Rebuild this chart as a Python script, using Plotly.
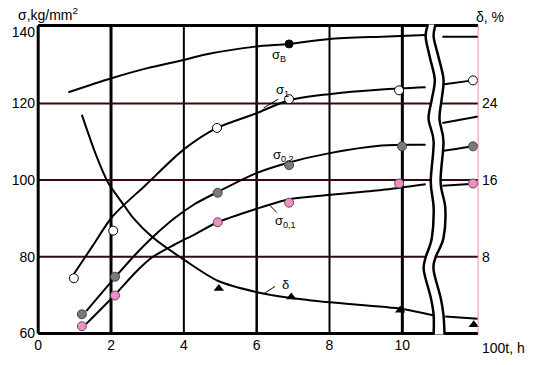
import plotly.graph_objects as go

# ---------------- data ----------------
# time axis: 100 t, h ; sigma in kg/mm^2 ; delta in %
SB_LINE_T = [0.83, 1.99, 3.0, 4.02, 4.56, 5.96, 6.89, 7.99, 9.43, 10.64, None, 11.1, 12.08]
SB_LINE_V = [122.9, 126.5, 129.2, 131.4, 132.7, 134.8, 135.5, 136.8, 137.4, 137.8, None, 137.35, 137.35]
SB_PTS_T = [6.89]
SB_PTS_V = [135.5]

S1_LINE_T = [0.98, 1.5, 2.04, 2.94, 4.0, 4.91, 5.96, 6.89, 7.99, 9.43, 10.64, None, 11.1, 11.94, 12.08]
S1_LINE_V = [75.5, 82.9, 90.5, 98.6, 108.0, 113.6, 117.3, 120.8, 122.4, 123.6, 124.2, None, 124.9, 126.0, 126.2]
S1_PTS_T = [0.98, 2.06, 4.91, 6.89, 9.91, 11.94]
S1_PTS_V = [74.4, 86.8, 113.6, 121.1, 123.4, 126.0]

S02_LINE_T = [1.32, 2.18, 2.67, 3.12, 3.75, 4.29, 4.93, 5.96, 6.89, 7.94, 9.43, 10.64, None, 11.1, 11.94, 12.08]
S02_LINE_V = [65.8, 75.4, 80.6, 84.9, 90.1, 93.7, 96.9, 101.7, 104.6, 106.9, 109.0, 109.2, None, 107.6, 108.8, 109.1]
S02_PTS_T = [1.20, 2.11, 4.93, 6.89, 9.99, 11.94]
S02_PTS_V = [65.0, 74.8, 96.7, 103.9, 108.8, 108.8]

S01_LINE_T = [1.32, 2.13, 2.67, 3.12, 3.75, 4.29, 4.93, 5.96, 6.89, 7.94, 9.43, 10.64, None, 11.1, 12.08]
S01_LINE_V = [62.5, 70.3, 75.9, 79.8, 83.2, 85.8, 89.0, 92.4, 95.0, 96.1, 97.4, 98.9, None, 98.5, 99.1]
S01_PTS_T = [1.20, 2.11, 4.93, 6.89, 9.91, 11.94]
S01_PTS_V = [61.9, 69.9, 89.0, 94.1, 99.1, 99.1]

EXTRA_LINE_T = [11.1, 12.08]
EXTRA_LINE_V = [114.9, 116.6]

D_LINE_T = [1.20, 1.59, 1.91, 2.35, 2.62, 3.15, 4.04, 4.93, 6.01, 6.95, 8.0, 10.0, 10.87, None, 11.18, 12.07]
D_LINE_V = [22.8, 18.6, 15.8, 13.4, 12.0, 10.0, 7.6, 5.5, 4.3, 3.7, 3.25, 2.56, 1.88, None, 1.78, 1.53]
D_PTS_T = [4.96, 6.95, 9.94, 11.96]
D_PTS_V = [4.7, 3.8, 2.43, 0.9]

X_TICKS = [0, 2, 4, 6, 8, 10]
Y_TICK_TEXT = ["60", "80", "100", "120", "140"]
Y_TICK_POS = [60, 80, 100, 120, 138.6]
Y2_TICKS = [8, 16, 24]

# axis break (wavy gap) outline, in axis units
BREAK_Y = [140.6, 137.35, 132.2, 126.25, 121.1, 115.9, 110.0, 99.6, 92.7, 84.9, 79.8, 76.4, 69.4, 64.8, 59.7]
BREAK_L = [10.70, 10.64, 10.75, 10.89, 10.81, 10.72, 10.86, 10.78, 10.86, 10.81, 10.64, 10.59, 10.78, 10.86, 10.86]
BREAK_R = [10.91, 10.86, 10.99, 11.13, 11.08, 11.02, 11.13, 11.05, 11.18, 11.13, 10.91, 10.86, 11.05, 11.13, 11.16]

# ---------------- geometry ----------------
X_RANGE = [-0.06, 12.16]
Y_RANGE = [59.6, 140.7]
Y2_RANGE = [(Y_RANGE[0] - 60) * 0.4, (Y_RANGE[1] - 60) * 0.4]
X_END = 12.08
Y_TOP = 140.3
FONT = "Liberation Sans, Arial, sans-serif"


def cr_path(xs, ys, start_cmd="M"):
    pts = list(zip(xs, ys))
    n = len(pts)
    s = f"{start_cmd} {pts[0][0]},{pts[0][1]} "
    for i in range(n - 1):
        p0 = pts[i - 1] if i > 0 else pts[i]
        p1 = pts[i]
        p2 = pts[i + 1]
        p3 = pts[i + 2] if i + 2 < n else pts[i + 1]
        c1 = (p1[0] + (p2[0] - p0[0]) / 6, p1[1] + (p2[1] - p0[1]) / 6)
        c2 = (p2[0] - (p3[0] - p1[0]) / 6, p2[1] - (p3[1] - p1[1]) / 6)
        s += f"C {c1[0]},{c1[1]} {c2[0]},{c2[1]} {p2[0]},{p2[1]} "
    return s


fig = go.Figure()

line_style = dict(color="black", width=2, shape="spline", smoothing=0.8)

for t, v in [(SB_LINE_T, SB_LINE_V), (S1_LINE_T, S1_LINE_V), (S02_LINE_T, S02_LINE_V),
             (S01_LINE_T, S01_LINE_V), (EXTRA_LINE_T, EXTRA_LINE_V)]:
    fig.add_trace(go.Scatter(x=t, y=v, mode="lines", line=line_style,
                             connectgaps=False, hoverinfo="skip"))
fig.add_trace(go.Scatter(x=D_LINE_T, y=D_LINE_V, mode="lines", line=line_style,
                         connectgaps=False, yaxis="y2", hoverinfo="skip"))

fig.add_trace(go.Scatter(x=SB_PTS_T, y=SB_PTS_V, mode="markers",
                         marker=dict(symbol="circle", size=8, color="black",
                                     line=dict(color="black", width=1))))
fig.add_trace(go.Scatter(x=S1_PTS_T, y=S1_PTS_V, mode="markers",
                         marker=dict(symbol="circle", size=9, color="white",
                                     line=dict(color="black", width=1))))
fig.add_trace(go.Scatter(x=S02_PTS_T, y=S02_PTS_V, mode="markers",
                         marker=dict(symbol="circle", size=9, color="#7a7a7a",
                                     line=dict(color="#444444", width=1))))
fig.add_trace(go.Scatter(x=S01_PTS_T, y=S01_PTS_V, mode="markers",
                         marker=dict(symbol="circle", size=9, color="#f58cc6",
                                     line=dict(color="#555555", width=1))))
fig.add_trace(go.Scatter(x=D_PTS_T, y=D_PTS_V, mode="markers", yaxis="y2",
                         marker=dict(symbol="triangle-up", size=9, color="black")))

shapes = []
# grid
for gx, w in zip(X_TICKS[1:], [3, 2, 2.5, 2, 3]):
    shapes.append(dict(type="line", xref="x", yref="y", x0=gx, x1=gx, y0=60, y1=Y_TOP,
                       line=dict(color="black", width=w), layer="below"))
for gy in [80, 100, 120]:
    shapes.append(dict(type="line", xref="x", yref="y", x0=0, x1=X_END, y0=gy, y1=gy,
                       line=dict(color="#300c0c", width=2), layer="below"))
# frame
shapes.append(dict(type="line", xref="x", yref="y", x0=0, x1=0, y0=60, y1=Y_TOP,
                   line=dict(color="black", width=3), layer="above"))
shapes.append(dict(type="line", xref="x", yref="y", x0=0, x1=X_END, y0=Y_TOP, y1=Y_TOP,
                   line=dict(color="black", width=3), layer="above"))
shapes.append(dict(type="line", xref="x", yref="y", x0=0, x1=X_END, y0=60, y1=60,
                   line=dict(color="black", width=3), layer="above"))
shapes.append(dict(type="line", xref="x", yref="y", x0=X_END, x1=X_END, y0=60, y1=Y_TOP,
                   line=dict(color="#e38fb2", width=1), layer="above"))
# break band
fill_path = cr_path(BREAK_L, BREAK_Y) + cr_path(BREAK_R[::-1], BREAK_Y[::-1], "L") + "Z"
shapes.append(dict(type="path", xref="x", yref="y", path=fill_path,
                   fillcolor="white", line=dict(width=0), layer="above"))
shapes.append(dict(type="path", xref="x", yref="y", path=cr_path(BREAK_L, BREAK_Y),
                   line=dict(color="black", width=2.5), layer="above"))
shapes.append(dict(type="path", xref="x", yref="y", path=cr_path(BREAK_R, BREAK_Y),
                   line=dict(color="black", width=2.5), layer="above"))
# leader lines
shapes.append(dict(type="line", xref="x", yref="y", x0=6.19, y0=118.8, x1=6.59, y1=121.1,
                   line=dict(color="black", width=1)))
shapes.append(dict(type="line", xref="x", yref="y", x0=6.35, y0=93.5, x1=6.55, y1=91.6,
                   line=dict(color="black", width=1)))
shapes.append(dict(type="line", xref="x", yref="y2", x0=6.18, y0=4.1, x1=6.5, y1=4.9,
                   line=dict(color="black", width=1)))

lab_font = dict(family=FONT, size=13, color="black")
annotations = [
    dict(x=6.6, y=132.4, xref="x", yref="y", text="σ<sub>B</sub>", showarrow=False, font=lab_font),
    dict(x=6.72, y=123.3, xref="x", yref="y", text="σ<sub>1</sub>", showarrow=False, font=lab_font),
    dict(x=6.73, y=106.4, xref="x", yref="y", text="σ<sub>0,2</sub>", showarrow=False, font=lab_font),
    dict(x=6.78, y=89.2, xref="x", yref="y", text="σ<sub>0,1</sub>", showarrow=False, font=lab_font),
    dict(x=6.78, y=5.15, xref="x", yref="y2", text="δ", showarrow=False, font=lab_font),
    dict(x=-0.044, y=1.032, xref="paper", yref="paper", xanchor="left", yanchor="middle",
         text="σ,kg/mm<sup>2</sup>", showarrow=False, font=dict(family=FONT, size=14, color="black")),
    dict(x=0.985, y=1.022, xref="paper", yref="paper", xanchor="left", yanchor="middle",
         text="δ, %", showarrow=False, font=dict(family=FONT, size=14, color="black")),
    dict(x=0.998, y=-0.041, xref="paper", yref="paper", xanchor="left", yanchor="middle",
         text="100t, h", showarrow=False, font=dict(family=FONT, size=14, color="black")),
]

tick_font = dict(family=FONT, size=14, color="black")
fig.update_layout(
    width=554, height=365,
    margin=dict(l=29, r=73, t=24, b=27),
    paper_bgcolor="white", plot_bgcolor="white",
    showlegend=False,
    xaxis=dict(range=X_RANGE, tickvals=X_TICKS, showgrid=False, zeroline=False,
               showline=False, ticks="", tickfont=tick_font),
    yaxis=dict(range=Y_RANGE, tickvals=Y_TICK_POS, ticktext=Y_TICK_TEXT, showgrid=False,
               zeroline=False, showline=False, ticks="", tickfont=tick_font),
    yaxis2=dict(range=Y2_RANGE, tickvals=Y2_TICKS, overlaying="y", side="right",
                showgrid=False, zeroline=False, showline=False, ticks="", tickfont=tick_font),
    shapes=shapes,
    annotations=annotations,
)

fig.write_html("out.html")
